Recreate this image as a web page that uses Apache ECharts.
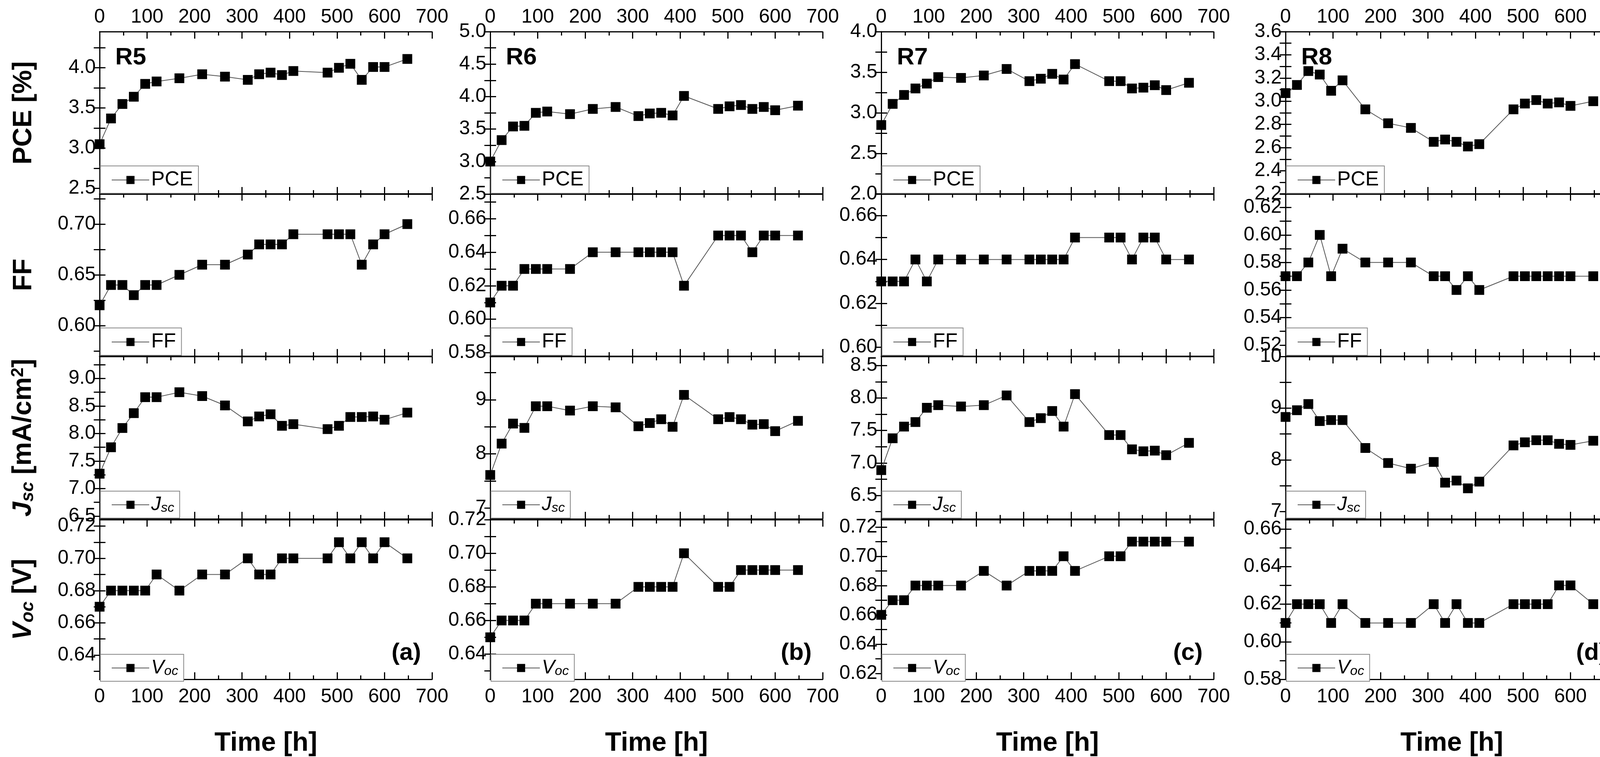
<!DOCTYPE html>
<html><head><meta charset="utf-8">
<script src="https://cdn.jsdelivr.net/npm/echarts@6/dist/echarts.min.js"></script>
<style>html,body{margin:0;padding:0;background:#fff;overflow:hidden}#c{width:4204px;height:1939px}</style>
</head><body><div id="c"></div>
<script>
const time = [0,24,48,72,96,120,168,216,264,312,336,360,384,408,480,504,528,552,576,600,648];
const xTicks = [0,100,200,300,400,500,600,700];
const samples = ['R5','R6','R7','R8'];
const panelTags = ['(a)','(b)','(c)','(d)'];
const metrics = ['PCE','FF','Jsc','Voc'];

const R5_PCE = [3.05,3.37,3.55,3.64,3.80,3.83,3.87,3.92,3.89,3.85,3.92,3.94,3.91,3.96,3.94,4.00,4.05,3.85,4.01,4.01,4.11];
const R5_FF  = [0.62,0.64,0.64,0.63,0.64,0.64,0.65,0.66,0.66,0.67,0.68,0.68,0.68,0.69,0.69,0.69,0.69,0.66,0.68,0.69,0.70];
const R5_Jsc = [7.27,7.75,8.10,8.37,8.66,8.66,8.75,8.68,8.51,8.22,8.31,8.35,8.14,8.17,8.08,8.14,8.30,8.30,8.31,8.25,8.38];
const R5_Voc = [0.67,0.68,0.68,0.68,0.68,0.69,0.68,0.69,0.69,0.70,0.69,0.69,0.70,0.70,0.70,0.71,0.70,0.71,0.70,0.71,0.70];

const R6_PCE = [3.00,3.33,3.54,3.55,3.75,3.77,3.73,3.81,3.84,3.70,3.74,3.75,3.71,4.01,3.81,3.85,3.87,3.81,3.84,3.79,3.86];
const R6_FF  = [0.61,0.62,0.62,0.63,0.63,0.63,0.63,0.64,0.64,0.64,0.64,0.64,0.64,0.62,0.65,0.65,0.65,0.64,0.65,0.65,0.65];
const R6_Jsc = [7.61,8.19,8.56,8.48,8.88,8.88,8.80,8.88,8.86,8.51,8.57,8.64,8.50,9.09,8.64,8.68,8.64,8.54,8.55,8.42,8.61];
const R6_Voc = [0.65,0.66,0.66,0.66,0.67,0.67,0.67,0.67,0.67,0.68,0.68,0.68,0.68,0.70,0.68,0.68,0.69,0.69,0.69,0.69,0.69];

const R7_PCE = [2.85,3.11,3.22,3.30,3.36,3.44,3.43,3.46,3.54,3.39,3.42,3.48,3.41,3.60,3.39,3.39,3.30,3.31,3.34,3.28,3.37];
const R7_FF  = [0.63,0.63,0.63,0.64,0.63,0.64,0.64,0.64,0.64,0.64,0.64,0.64,0.64,0.65,0.65,0.65,0.64,0.65,0.65,0.64,0.64];
const R7_Jsc = [6.89,7.38,7.56,7.63,7.85,7.89,7.87,7.89,8.04,7.63,7.69,7.80,7.56,8.06,7.43,7.43,7.21,7.18,7.19,7.12,7.31];
const R7_Voc = [0.66,0.67,0.67,0.68,0.68,0.68,0.68,0.69,0.68,0.69,0.69,0.69,0.70,0.69,0.70,0.70,0.71,0.71,0.71,0.71,0.71];

const R8_PCE = [3.07,3.14,3.26,3.23,3.09,3.18,2.93,2.81,2.77,2.65,2.67,2.65,2.61,2.63,2.93,2.98,3.01,2.98,2.99,2.96,3.00];
const R8_FF  = [0.57,0.57,0.58,0.60,0.57,0.59,0.58,0.58,0.58,0.57,0.57,0.56,0.57,0.56,0.57,0.57,0.57,0.57,0.57,0.57,0.57];
const R8_Jsc = [8.83,8.96,9.08,8.75,8.77,8.77,8.23,7.94,7.83,7.96,7.56,7.60,7.45,7.58,8.28,8.34,8.38,8.38,8.31,8.29,8.37];
const R8_Voc = [0.61,0.62,0.62,0.62,0.61,0.62,0.61,0.61,0.61,0.62,0.61,0.62,0.61,0.61,0.62,0.62,0.62,0.62,0.63,0.63,0.62];

const values = {R5:[R5_PCE,R5_FF,R5_Jsc,R5_Voc],R6:[R6_PCE,R6_FF,R6_Jsc,R6_Voc],R7:[R7_PCE,R7_FF,R7_Jsc,R7_Voc],R8:[R8_PCE,R8_FF,R8_Jsc,R8_Voc]};

// y scale per panel: [min, max, first label, label step, minor step, decimals]
const yScale = {
  R5:[[2.43,4.45,2.5,0.5,0.25,1],[0.57,0.73,0.60,0.05,0.025,2],[6.45,9.4,6.5,0.5,0.25,1],[0.625,0.724,0.64,0.02,0.01,2]],
  R6:[[2.5,5.0,2.5,0.5,0.25,1],[0.578,0.675,0.58,0.02,0.01,2],[6.8,9.8,7,1,0.5,0],[0.625,0.72,0.64,0.02,0.01,2]],
  R7:[[2.0,4.0,2.0,0.5,0.25,1],[0.596,0.67,0.60,0.02,0.01,2],[6.14,8.64,6.5,0.5,0.25,1],[0.616,0.725,0.62,0.02,0.01,2]],
  R8:[[2.2,3.6,2.2,0.2,0.1,1],[0.512,0.63,0.52,0.02,0.01,2],[6.86,10,7,1,0.5,0],[0.58,0.665,0.58,0.02,0.01,2]]
};

const colLeft = [255,1255,2256,3291], colW = 851;
const rowTop = [81,496,913,1331], rowH = 416;
const FONT = 'Liberation Sans, Arial, sans-serif';
const rich = {
  i:{fontStyle:'italic',fontWeight:'bold',fontSize:68,fontFamily:FONT},
  s:{fontStyle:'italic',fontWeight:'bold',fontSize:46,verticalAlign:'bottom',padding:[24,0,0,0],fontFamily:FONT},
  p:{fontWeight:'bold',fontSize:44,verticalAlign:'top',padding:[0,0,24,0],fontFamily:FONT},
  li:{fontStyle:'italic',fontSize:50,fontFamily:FONT},
  ls:{fontStyle:'italic',fontSize:34,padding:[18,0,0,0],fontFamily:FONT}
};
const yNames = ['PCE [%]','FF','{i|J}{s|sc} [mA/cm{p|2}]','{i|V}{s|oc} [V]'];
const legendText = {PCE:'PCE',FF:'FF',Jsc:'{li|J}{ls|sc}',Voc:'{li|V}{ls|oc}'};

function seq(a,b,st){const out=[];const n=Math.round((b-a)/st+1e-6);for(let k=0;k<=n;k++)out.push(+(a+k*st).toFixed(4));return out;}

const grids=[],xAxes=[],yAxes=[],series=[],legends=[],graphics=[];
const axisLine={show:true,lineStyle:{color:'#000',width:3}};
samples.forEach((s,c)=>{
  metrics.forEach((m,r)=>{
    const gi=grids.length;
    grids.push({left:colLeft[c],top:rowTop[r],width:colW,height:rowH,show:false});
    const [mn,mx,l0,ls,ms,dec]=yScale[s][r];
    const labels=seq(l0,mx+1e-9,ls).filter(v=>v<=mx+1e-9);
    const ticks=seq(Math.ceil(mn/ms-1e-6)*ms,mx,ms).filter(v=>v>=mn-1e-9&&v<=mx+1e-9);
    const xBase={type:'value',gridIndex:gi,min:0,max:700,interval:100,axisLine,splitLine:{show:false},
      axisTick:{show:true,inside:true,length:18,lineStyle:{color:'#000',width:3}},
      minorTick:{show:true,splitNumber:2,length:10,lineStyle:{color:'#000',width:3}}};
    xAxes.push(Object.assign({},xBase,{position:'bottom',
      axisLabel:{show:r===3,fontSize:50,color:'#000',fontFamily:FONT,margin:20},
      name:r===3?'Time [h]':'',nameLocation:'middle',nameGap:130,
      nameTextStyle:{fontSize:68,fontWeight:'bold',color:'#000',fontFamily:FONT}}));
    xAxes.push(Object.assign({},xBase,{position:'top',
      axisLabel:{show:r===0,fontSize:50,color:'#000',fontFamily:FONT,margin:12}}));
    const yBase={type:'value',gridIndex:gi,min:mn,max:mx,axisLine,splitLine:{show:false},
      axisTick:{show:true,inside:true,length:15,customValues:ticks,lineStyle:{color:'#000',width:3}}};
    yAxes.push(Object.assign({},yBase,{position:'left',
      axisLabel:{show:true,customValues:labels,formatter:v=>v.toFixed(dec),fontSize:50,color:'#000',fontFamily:FONT,margin:10},
      name:c===0?yNames[r]:'',nameLocation:'middle',nameGap:160,nameRotate:90,
      nameTextStyle:{fontSize:68,fontWeight:'bold',color:'#000',fontFamily:FONT,rich}}));
    yAxes.push(Object.assign({},yBase,{position:'right',axisLabel:{show:false}}));
    const nm=m+' '+s;
    series.push({type:'line',name:nm,xAxisIndex:2*gi,yAxisIndex:2*gi,
      data:time.map((t,k)=>[t,values[s][r][k]]),symbol:'rect',symbolSize:25,
      itemStyle:{color:'#000'},lineStyle:{color:'#555',width:2},z:5});
    legends.push({data:[nm],left:colLeft[c]+2,bottom:1939-(rowTop[r]+rowH)+2,orient:'horizontal',
      backgroundColor:'#fff',borderColor:'#888',borderWidth:2,padding:[10,14,8,28],itemWidth:96,itemHeight:26,itemGap:4,
      formatter:()=>legendText[m],selectedMode:false,
      textStyle:{fontSize:52,color:'#000',fontFamily:FONT,rich}});
  });
  graphics.push({type:'text',left:colLeft[c]+40,top:rowTop[0]+36,z:10,
    style:{text:s,fontSize:62,fontWeight:'bold',fill:'#000',fontFamily:FONT}});
  graphics.push({type:'text',right:4204-(colLeft[c]+colW)+28,top:rowTop[3]+rowH-105,z:10,
    style:{text:panelTags[c],fontSize:62,fontWeight:'bold',fill:'#000',fontFamily:FONT}});
});

const chart=echarts.init(document.getElementById('c'));
chart.setOption({animation:false,backgroundColor:'#fff',grid:grids,xAxis:xAxes,yAxis:yAxes,series,legend:legends,graphic:graphics});
</script></body></html>
